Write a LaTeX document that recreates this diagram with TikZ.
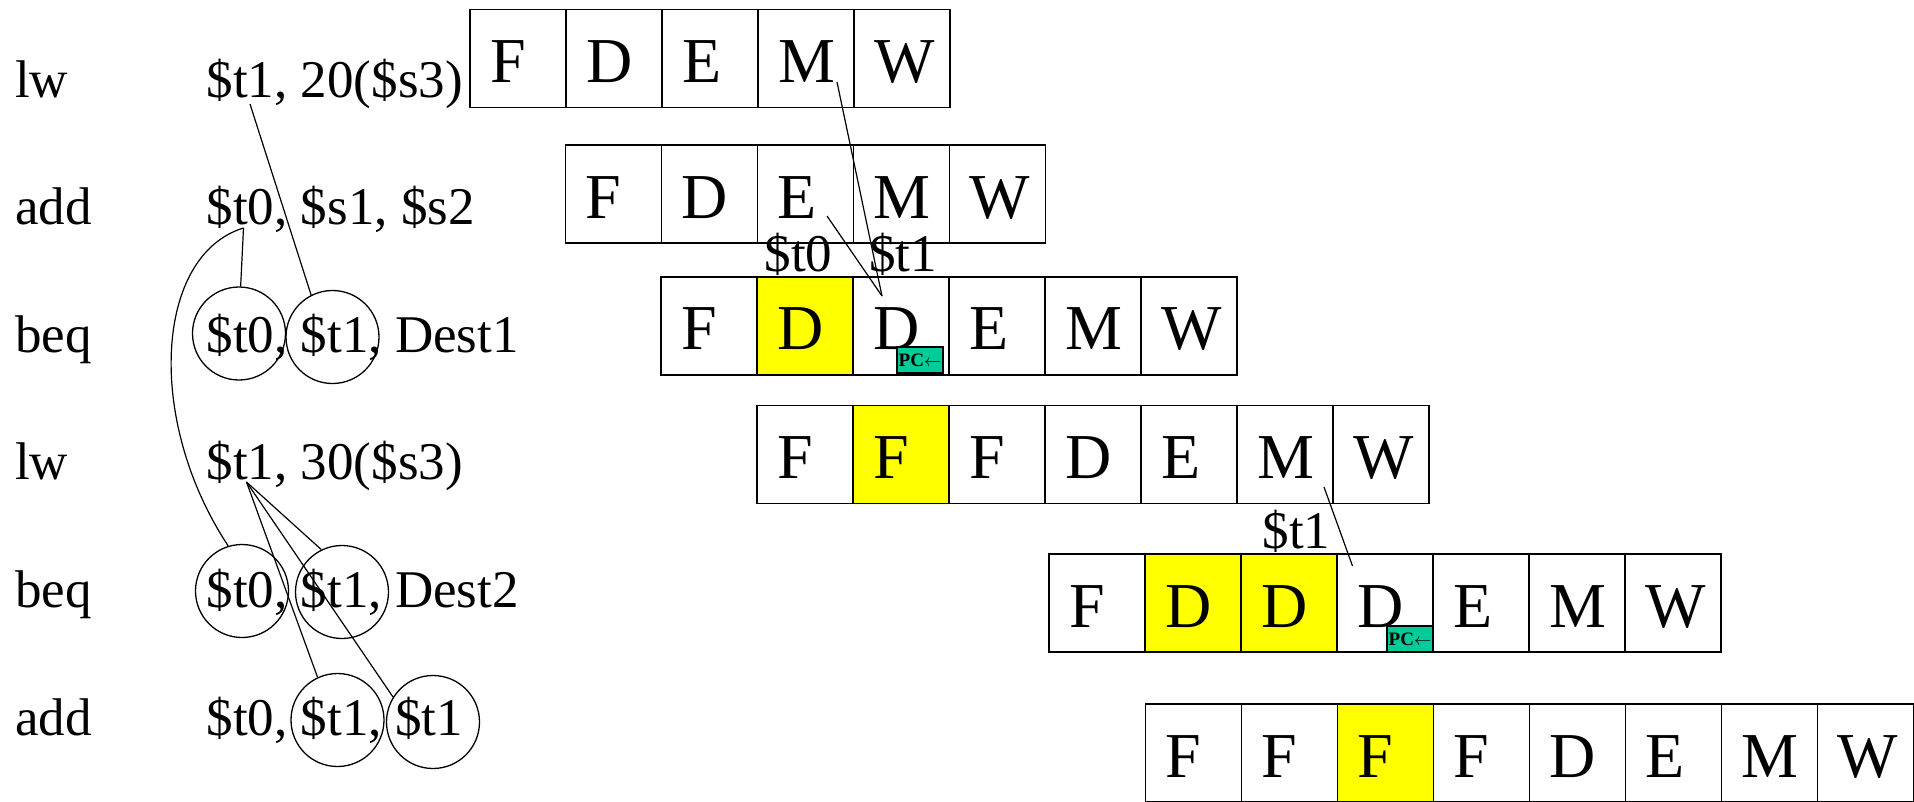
\documentclass[tikz,border=0pt]{standalone}
\usepackage{fontspec}
\setmainfont{Liberation Serif}
\definecolor{pcgreen}{RGB}{0,204,153}
\definecolor{hiyel}{RGB}{255,255,0}
\tikzset{
  cell/.style={draw, line width=1.5pt, minimum width=96pt, minimum height=98pt, inner sep=0pt,
    anchor=north west, text height=48pt, text depth=0pt, font=\fontsize{64}{64}\selectfont},
  txt/.style={anchor=base west, inner sep=0pt, font=\fontsize{53}{53}\selectfont},
  opc/.style={draw, circle, minimum size=93pt, inner sep=0pt, line width=1.3pt},
  pcbox/.style={draw, fill=pcgreen, line width=1.4pt, minimum width=46pt, minimum height=26pt,
    inner sep=0pt, font=\fontsize{19}{19}\selectfont},
  link/.style={line width=1.2pt}
}
\newcommand{\stg}[1]{\makebox[55pt][l]{#1}}
\begin{document}
\begin{tikzpicture}[x=1pt,y=-1pt]
\useasboundingbox (0,0) rectangle (1914,801);
% instruction text
\node[txt] (op1) at (15,97) {lw};
\node[txt] (op2) at (15,224.6) {add};
\node[txt] (op3) at (15,352.2) {beq};
\node[txt] (op4) at (15,479.8) {lw};
\node[txt] (op5) at (15,607.4) {beq};
\node[txt] (op6) at (15,735) {add};
\node[txt] (ar1) at (206.5,97) {\$t1, 20(\$s3)};
\node[txt] (ar2) at (206.5,224.6) {\$t0, \$s1, \$s2};
\node[txt] (ar3) at (206.5,352.2) {\$t0, \$t1, Dest1};
\node[txt] (ar4) at (206.5,479.8) {\$t1, 30(\$s3)};
\node[txt] (ar5) at (206.5,607.4) {\$t0, \$t1, Dest2};
\node[txt] (ar6) at (206.5,735) {\$t0, \$t1, \$t1};
% circles
\node[opc] (c1) at (239,333.5) {};
\node[opc] (c2) at (332.5,337) {};
\node[opc] (c3) at (242,591) {};
\node[opc] (c4) at (342,592) {};
\node[opc] (c5) at (337.5,720) {};
\node[opc] (c6) at (433,722) {};
% pipeline rows
\foreach \l/\f [count=\i] in {F/white,D/white,E/white,M/white,W/white}
  \node[cell, fill=\f] (ra\i) at ({469+96*(\i-1)},8.5) {\stg{\l}};
\foreach \l/\f [count=\i] in {F/white,D/white,E/white,M/white,W/white}
  \node[cell, fill=\f] (rb\i) at ({564.5+96*(\i-1)},144.3) {\stg{\l}};
\foreach \l/\f [count=\i] in {F/white,D/hiyel,D/white,E/white,M/white,W/white}
  \node[cell, fill=\f] (rc\i) at ({660+96*(\i-1)},276) {\stg{\l}};
\foreach \l/\f [count=\i] in {F/white,F/hiyel,F/white,D/white,E/white,M/white,W/white}
  \node[cell, fill=\f] (rd\i) at ({756+96*(\i-1)},404.7) {\stg{\l}};
\foreach \l/\f [count=\i] in {F/white,D/hiyel,D/hiyel,D/white,E/white,M/white,W/white}
  \node[cell, fill=\f] (re\i) at ({1048.4+96*(\i-1)},553.3) {\stg{\l}};
\foreach \l/\f [count=\i] in {F/white,F/white,F/hiyel,F/white,D/white,E/white,M/white,W/white}
  \node[cell, fill=\f] (rf\i) at ({1144.6+96*(\i-1)},703.3) {\stg{\l}};
% PC boxes
\node[pcbox] (pc1) at (920,360) {\textbf{PC}$\leftarrow$};
\node[pcbox] (pc2) at (1410,638.8) {\textbf{PC}$\leftarrow$};
% labels
\node[txt] (lt0) at (764.5,271) {\$t0};
\node[txt] (lt1) at (869,271) {\$t1};
\node[txt] (lt2) at (1262.5,548) {\$t1};
% connector ends
\coordinate (s1) at (250,104);
\coordinate (s2) at (243.5,228);
\coordinate (s4) at (246.5,482);
\coordinate (m1) at (837,82);
\coordinate (e2) at (827,216);
\coordinate (d3) at (882,296);
\coordinate (m4) at (1324,487);
\coordinate (d5) at (1352.5,566);
% connectors
\draw[link] (s1) -- (c2.117);
\draw[link] (s2) -- (c1.88);
\draw[link] (s2) .. controls (155,255) and (145,420) .. (c3.107);
\draw[link] (s4) -- (c4.116);
\draw[link] (s4) -- (c5.115);
\draw[link] (s4) -- (c6.148);
\draw[link] (m1) -- (d3);
\draw[link] (e2) -- (d3);
\draw[link] (m4) -- (d5);
\end{tikzpicture}
\end{document}
